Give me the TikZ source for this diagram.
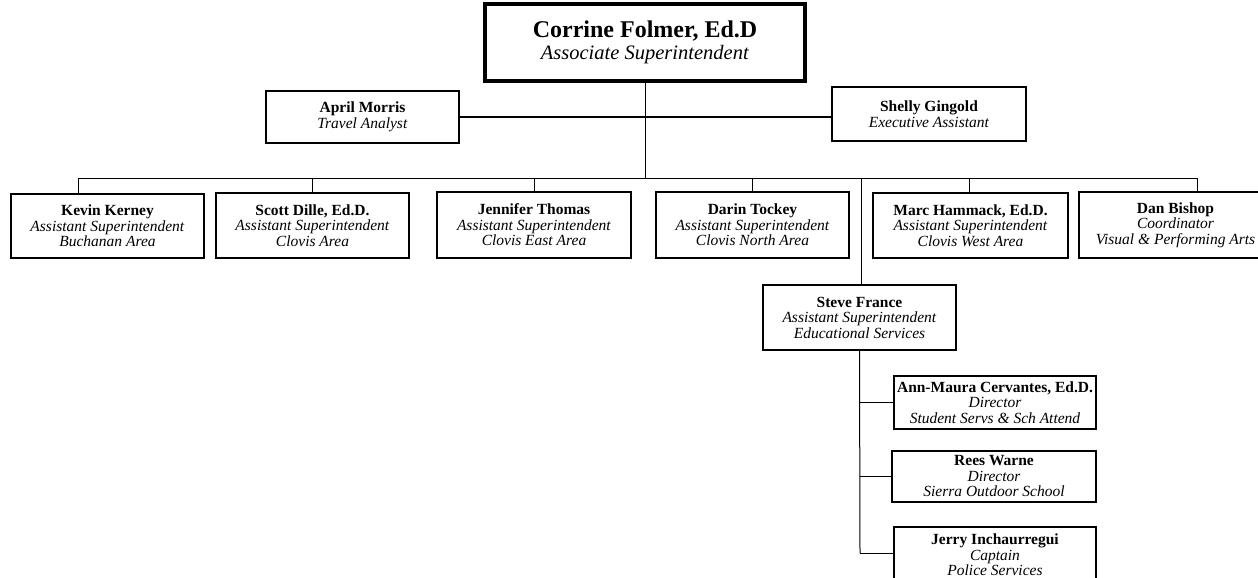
\documentclass[tikz,border=0pt]{standalone}
\usepackage{fontspec}
\setmainfont{Liberation Serif}
\begin{document}
\begin{tikzpicture}[x=1pt,y=-1pt,
  box/.style={draw,line width=1.3pt,minimum height=#1,inner sep=0pt,align=center,
    font=\fontsize{15.5}{15.5}\selectfont},
  box/.default=64,
  conn/.style={line width=1pt}]
\useasboundingbox (0,0) rectangle (1258,578);
\newcommand{\nmb}[1]{\textbf{#1}}
% top
\node[draw,line width=4pt,minimum width=320,minimum height=77,inner sep=0pt,align=center] (top) at (645,42.5)
  {{\fontsize{24}{26}\selectfont\textbf{Corrine Folmer, Ed.D}}\\[3pt]{\fontsize{20.5}{22}\selectfont\textit{Associate Superintendent}}};
\node[box=52,minimum width=193] (april) at (362.5,117) {\nmb{April Morris}\\\textit{Travel Analyst}};
\node[box=54,minimum width=194] (shelly) at (929,114) {\nmb{Shelly Gingold}\\\textit{Executive Assistant}};
% row
\node[box=64,minimum width=193] (kevin) at (107.5,226) {\nmb{Kevin Kerney}\\\textit{Assistant Superintendent}\\\textit{Buchanan Area}};
\node[box=65,minimum width=193] (scott) at (312.5,225.5) {\nmb{Scott Dille, Ed.D.}\\\textit{Assistant Superintendent}\\\textit{Clovis Area}};
\node[box=66,minimum width=194] (jennifer) at (534,225) {\nmb{Jennifer Thomas}\\\textit{Assistant Superintendent}\\\textit{Clovis East Area}};
\node[box=66,minimum width=193] (darin) at (752.5,225) {\nmb{Darin Tockey}\\\textit{Assistant Superintendent}\\\textit{Clovis North Area}};
\node[box=65,minimum width=195] (marc) at (970.5,225.5) {\nmb{Marc Hammack, Ed.D.}\\\textit{Assistant Superintendent}\\\textit{Clovis West Area}};
\node[box=66,minimum width=193] (dan) at (1175.5,225) {\nmb{Dan Bishop}\\\textit{Coordinator}\\\textit{Visual \& Performing Arts}};
% Steve
\node[box=65,minimum width=193] (steve) at (859.5,317.5) {\nmb{Steve France}\\\textit{Assistant Superintendent}\\\textit{Educational Services}};
\node[box=53,minimum width=202] (ann) at (995,402.5) {\nmb{Ann-Maura Cervantes, Ed.D.}\\\textit{Director}\\\textit{Student Servs \& Sch Attend}};
\node[box=51,minimum width=204] (rees) at (994,476.5) {\nmb{Rees Warne}\\\textit{Director}\\\textit{Sierra Outdoor School}};
\node[box=56,minimum width=202] (jerry) at (995,555) {\nmb{Jerry Inchaurregui}\\\textit{Captain}\\\textit{Police Services}};
% coordinates
\coordinate (busL) at (78,178);
\coordinate (busR) at (1197,178);
\coordinate (bTop) at (645,178);
\coordinate (bScott) at (312,178);
\coordinate (bJen) at (534,178);
\coordinate (bDarin) at (752,178);
\coordinate (bMarc) at (969,178);
\coordinate (bSteve) at (861,178);
\coordinate (sEnd) at (860,553);
% connectors
\draw[conn] (top.south) -- (bTop);
\draw[line width=2.5pt] (april.east) -- (april.east -| shelly.west);
\draw[conn] (busL) -- (busR);
\draw[conn] (busL) -- (busL |- kevin.north);
\draw[conn] (bScott) -- (bScott |- scott.north);
\draw[conn] (bJen) -- (bJen |- jennifer.north);
\draw[conn] (bDarin) -- (bDarin |- darin.north);
\draw[conn] (bMarc) -- (bMarc |- marc.north);
\draw[conn] (busR) -- (busR |- dan.north);
\draw[conn] (bSteve) -- (bSteve |- steve.north);
\draw[conn] (steve.south) -- (sEnd);
\draw[conn] (sEnd |- ann.west) -- (ann.west);
\draw[conn] (sEnd |- rees.west) -- (rees.west);
\draw[conn] (sEnd) -- (sEnd -| jerry.west);
\end{tikzpicture}
\end{document}
